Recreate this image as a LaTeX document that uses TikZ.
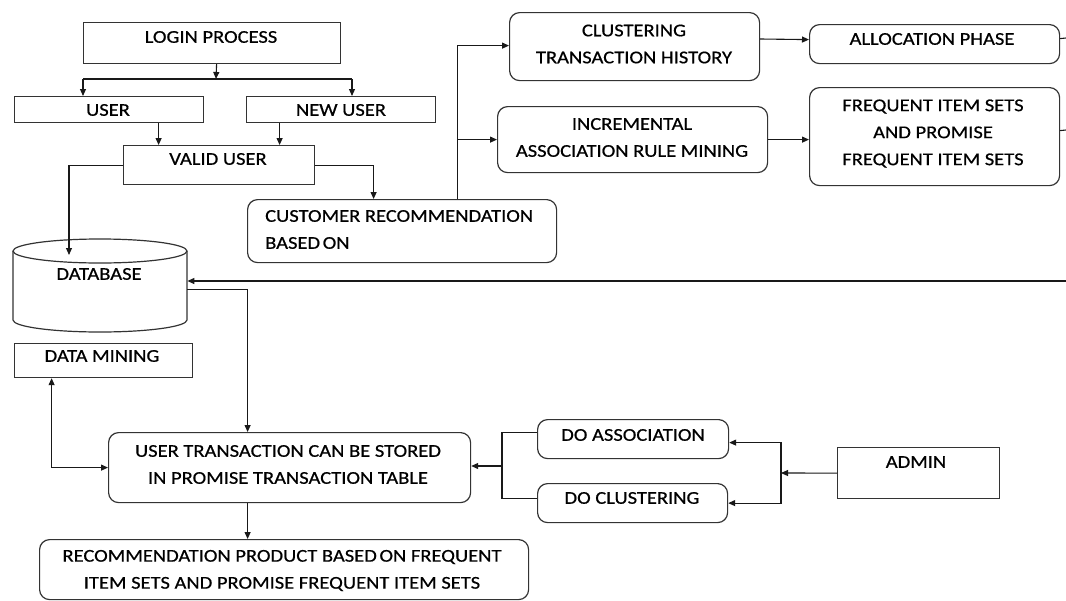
\documentclass[tikz,border=0pt]{standalone}
\usepackage{fontspec}
\setmainfont{Carlito}[FakeStretch=1.14,FakeBold=0.6]
\usetikzlibrary{arrows.meta}
\tikzset{
  box/.style={draw=black!80, line width=1.2pt, inner sep=0pt, anchor=north west},
  rbox/.style={box, rounded corners=10pt},
  txt/.style={inner sep=0pt, align=center, font=\fontsize{18}{27}\selectfont},
  ln/.style={draw=black!90, line width=1.1pt},
  arr/.style={ln, -{Triangle[length=7pt,width=6pt]}},
  darr/.style={ln, {Triangle[length=7pt,width=6pt]}-{Triangle[length=7pt,width=6pt]}},
}
\begin{document}
\begin{tikzpicture}[x=1pt,y=-1pt]
\useasboundingbox (0,0) rectangle (1066,600);
% boxes
\node[box, minimum width=257pt, minimum height=41pt] (login) at (83,22) {};
\node[box, minimum width=189pt, minimum height=26pt] (user) at (14,96) {};
\node[box, minimum width=189pt, minimum height=26pt] (newuser) at (246,96) {};
\node[box, minimum width=191pt, minimum height=39pt] (valid) at (123,145) {};
\node[rbox, minimum width=309pt, minimum height=63pt] (cust) at (247,199) {};
\node[rbox, minimum width=250pt, minimum height=68pt] (clust) at (509,12) {};
\node[rbox, minimum width=250pt, minimum height=39pt] (alloc) at (809,24) {};
\node[rbox, minimum width=270pt, minimum height=66pt] (incr) at (497,106) {};
\node[rbox, minimum width=250pt, minimum height=98pt] (freq) at (809,87) {};
\node[inner sep=0pt, minimum width=174pt, minimum height=93pt, anchor=north west] (db) at (13,239) {};
\node[box, minimum width=178pt, minimum height=34pt] (dmin) at (14,343) {};
\node[rbox, minimum width=362pt, minimum height=70pt] (utrans) at (108,432) {};
\node[rbox, minimum width=489pt, minimum height=60pt] (recprod) at (39,539) {};
\node[rbox, minimum width=191pt, minimum height=39pt] (doassoc) at (537,419) {};
\node[rbox, minimum width=190pt, minimum height=39pt] (doclust) at (537,483) {};
\node[box, minimum width=162pt, minimum height=51pt] (admin) at (837,447) {};
% database cylinder
\draw[draw=black!80, line width=1.2pt] (13,251) -- (13,320) arc[start angle=180, end angle=360, x radius=87pt, y radius=12pt] -- (187,251);
\draw[draw=black!80, line width=1.2pt] (100,251) ellipse [x radius=87pt, y radius=12pt];
% texts
\node[txt] (tlogin) at (211,37) {LOGIN PROCESS};
\node[txt] (tuser) at (108,110) {USER};
\node[txt] (tnewuser) at (341,110) {NEW USER};
\node[txt] (tvalid) at (218,159) {VALID USER};
\node[txt, align=left, anchor=west] (tcust) at (265,229.5) {CUSTOMER RECOMMENDATION\\BASED\hspace{-2pt} ON};
\node[txt] (tclust) at (634,44) {CLUSTERING\\TRANSACTION HISTORY};
\node[txt] (talloc) at (932,39) {ALLOCATION PHASE};
\node[txt] (tincr) at (632,137.5) {INCREMENTAL\\ASSOCIATION RULE MINING};
\node[txt] (tfreq) at (933,133.5) {FREQUENT ITEM SETS\\AND PROMISE\\FREQUENT ITEM SETS};
\node[txt] (tdb) at (99,274) {DATABASE};
\node[txt] (tdmin) at (102,356) {DATA MINING};
\node[txt] (tutrans) at (288,464.5) {USER TRANSACTION CAN BE STORED\\IN PROMISE TRANSACTION TABLE};
\node[txt] (trecprod) at (282,570.5) {RECOMMENDATION PRODUCT BASED\hspace{-2pt} ON FREQUENT\\ITEM SETS AND PROMISE FREQUENT ITEM SETS};
\node[txt] (tdoassoc) at (633,435) {DO ASSOCIATION};
\node[txt] (tdoclust) at (632,498) {DO CLUSTERING};
\node[txt] (tadmin) at (916,462) {ADMIN};
% coordinates
\coordinate (split) at (216,79);
\coordinate (sl) at (83,79);
\coordinate (sr) at (352,79);
\coordinate (dbtop) at (69,255);
\coordinate (bus) at ([xshift=55.5pt]cust.north);
\coordinate (ae) at (1066,38);
\coordinate (fe) at (1066,130);
\coordinate (re) at (1066,281);
\coordinate (lb) at (502,466);
\coordinate (rb) at (781,473);
% connectors
\draw[arr] ([xshift=4.5pt]login.south) -- (split);
\draw[ln] (sl) -- (sr);
\draw[arr] (sl) -- (sl |- user.north);
\draw[arr] (sr) -- (sr |- newuser.north);
\draw[arr] ([xshift=49.5pt]user.south) -- ([xshift=49.5pt]user.south |- valid.north);
\draw[arr] ([xshift=-61.5pt]newuser.south) -- ([xshift=-61.5pt]newuser.south |- valid.north);
\draw[arr] (valid.west) -| (dbtop);
\draw[arr] (valid.east) -| ([xshift=-28.5pt]cust.north);
\draw[arr] (bus) |- ([yshift=1pt]clust.west);
\draw[arr] (bus) |- (incr.west);
\draw[arr] (clust.east |- 0,39) -- ([yshift=4.5pt]alloc.west);
\draw[arr] (incr.east) -- (incr.east -| freq.west);
\draw[ln] ([yshift=5.5pt]alloc.east) -- (ae);
\draw[ln] ([yshift=6pt]freq.east) -- (fe);
\draw[arr] (re) -- (re -| db.east);
\draw[arr] ([yshift=-3.5pt]db.east) -| ([xshift=-42pt]utrans.north);
\draw[darr] ([xshift=-52pt]dmin.south) |- (utrans.west);
\draw[arr] ([xshift=-42pt]utrans.south) -- ([xshift=-42pt]utrans.south |- recprod.north);
\draw[ln] ([yshift=6.5pt]doassoc.west) -| (lb) |- ([yshift=4.5pt]doclust.west);
\draw[arr] (lb) -- (lb -| utrans.east);
\draw[arr] (admin.west) -- (rb);
\draw[arr] (rb) |- ([yshift=-3.5pt]doassoc.east);
\draw[arr] (rb) |- (doclust.east);
\end{tikzpicture}
\end{document}
